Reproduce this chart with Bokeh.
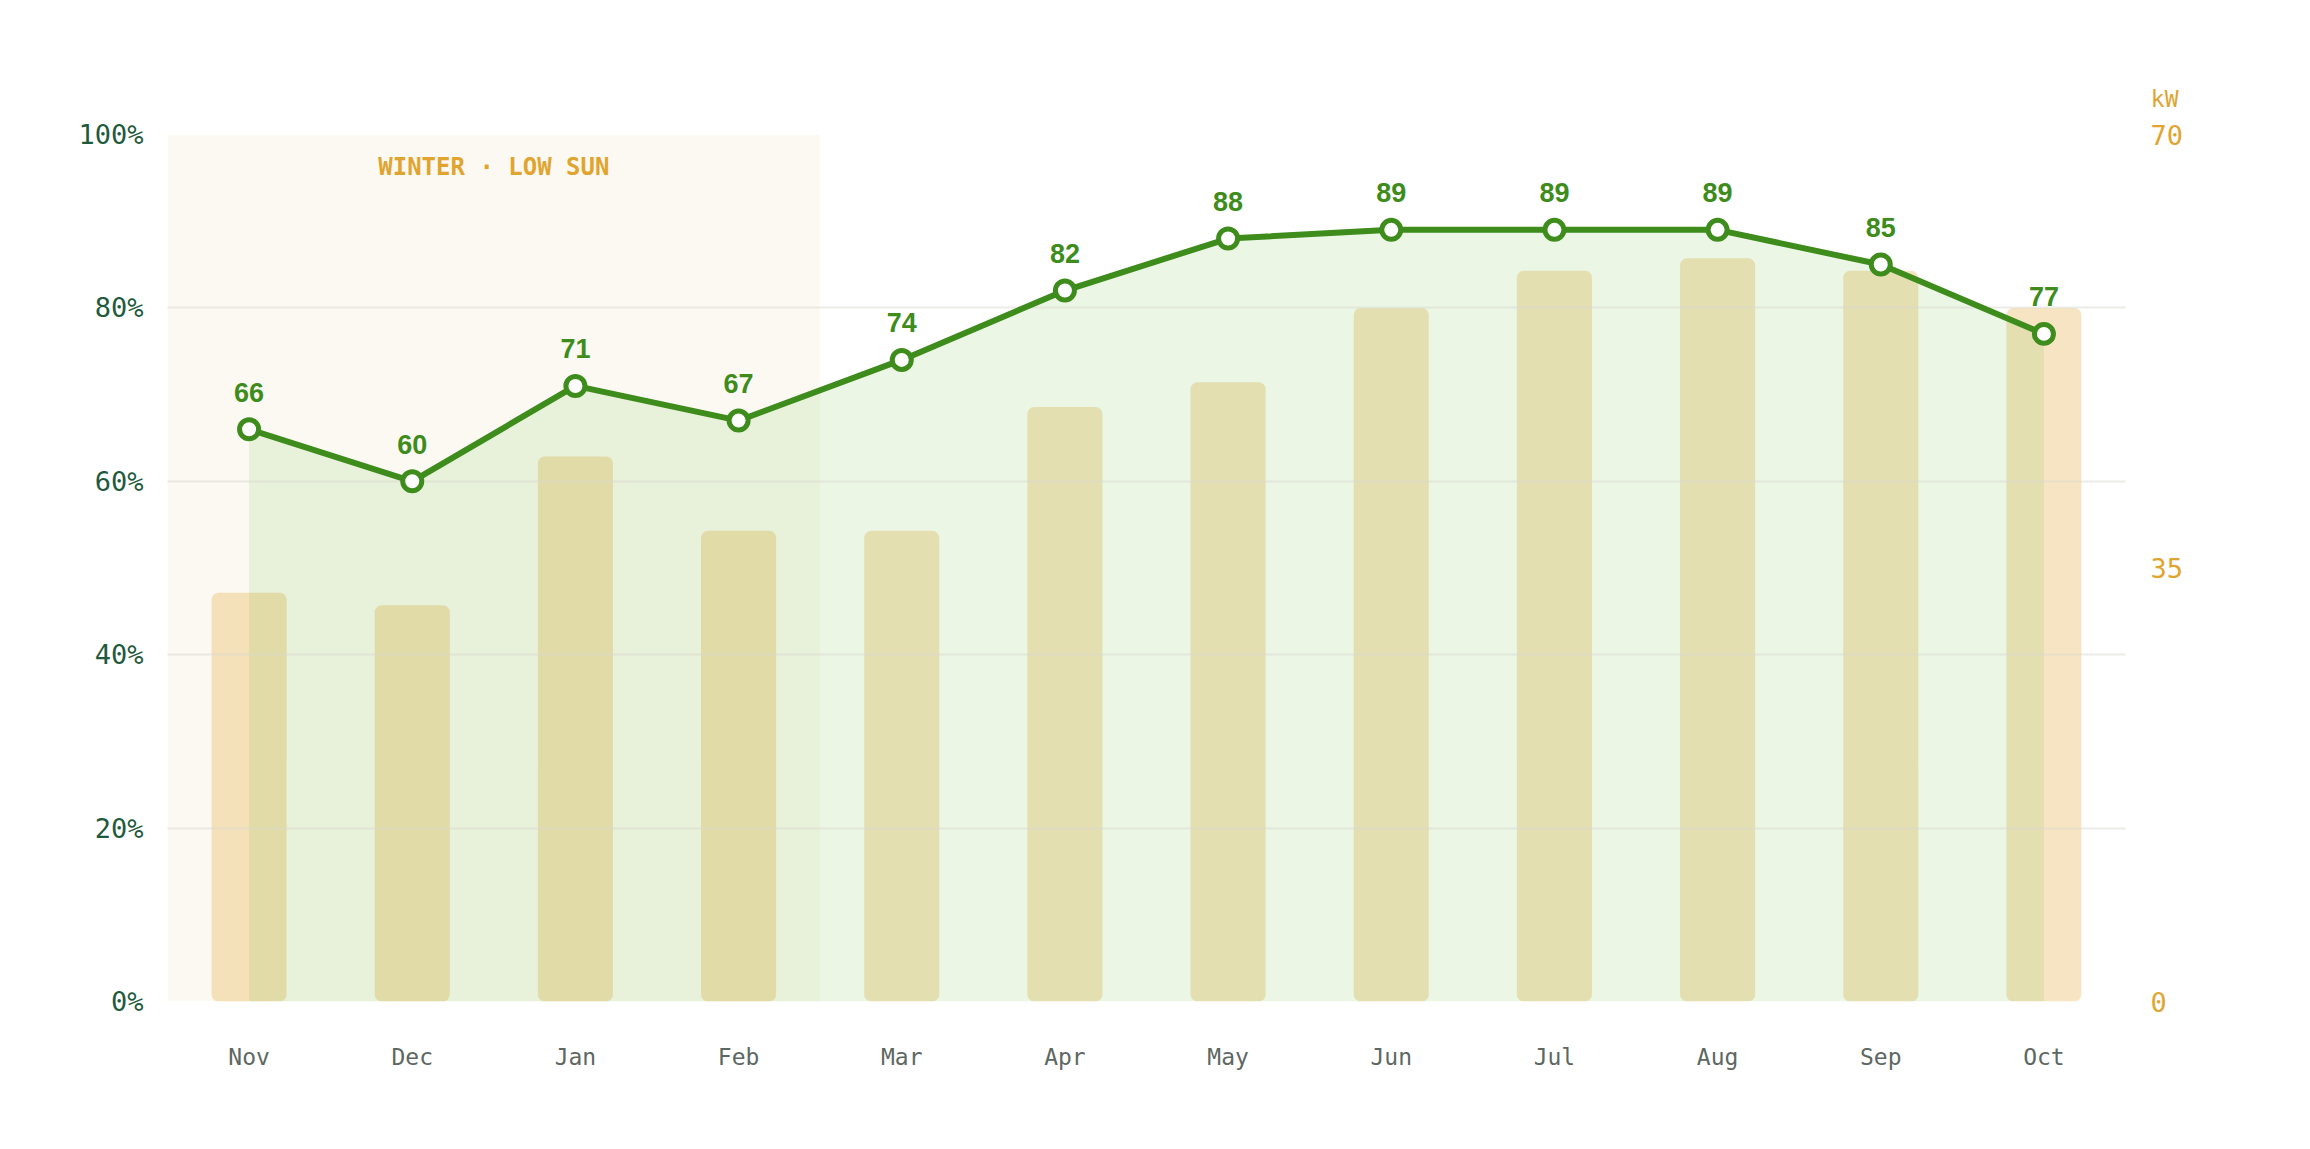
from bokeh.plotting import figure
from bokeh.models import (Range1d, LinearAxis, FixedTicker, BoxAnnotation, Label, Title,
                          CustomJSTickFormatter, FactorRange)
from bokeh.core.properties import value
from bokeh.embed import file_html
from bokeh.resources import INLINE

# ---- data ----
months = ["Nov", "Dec", "Jan", "Feb", "Mar", "Apr", "May", "Jun", "Jul", "Aug", "Sep", "Oct"]
efficiency_pct = [66, 60, 71, 67, 74, 82, 88, 89, 89, 89, 85, 77]
output_kw = [33, 32, 44, 38, 38, 48, 50, 56, 59, 60, 59, 56]
left_ticks = [0, 20, 40, 60, 80, 100]
right_ticks = [0, 35, 70]
winter_months = ["Nov", "Dec", "Jan", "Feb"]
winter_text = "WINTER · LOW SUN"
right_unit = "kW"

GREEN = "#3d8c1c"
AMBER = "#e0a530"
DARK = "#1f5a3d"
GRAY = "#5e6862"
MONO = "DejaVu Sans Mono"

p = figure(x_range=FactorRange(*months, range_padding=0), y_range=Range1d(0, 100),
           frame_width=1958, frame_height=867,
           min_border_left=167, min_border_right=160, min_border_top=134, min_border_bottom=132,
           output_backend="svg", toolbar_location=None,
           background_fill_color="white", border_fill_color="white")
p.outline_line_color = None
p.extra_y_ranges = {"kw": Range1d(0, 70)}

# winter band
band = BoxAnnotation(left=0, right=len(winter_months), bottom=0, top=100,
                     fill_color="#fcf9f2", fill_alpha=1.0, line_color=None, level="underlay")
p.add_layout(band)

# bars (kW)
p.vbar(x=months, top=output_kw, width=0.46, y_range_name="kw",
       fill_color="#e0a536", fill_alpha=0.3, line_color=None, border_radius=7)

# area under line
p.varea(x=months, y1=[0] * len(months), y2=efficiency_pct, fill_color="#7cc44a", fill_alpha=0.15)

# line + markers + labels on top
ln = p.line(x=months, y=efficiency_pct, line_color=GREEN, line_width=6)
ln.level = "annotation"
sc = p.scatter(x=months, y=efficiency_pct, size=19, fill_color="white", line_color=GREEN, line_width=5)
sc.level = "annotation"
tx = p.text(x=months, y=efficiency_pct, text=[str(v) for v in efficiency_pct],
            text_align="center", text_baseline="alphabetic", y_offset=-37,
            text_font=value("Liberation Sans"), text_font_style="bold",
            text_font_size="27px", text_color=GREEN)
tx.level = "annotation"

# winter label
p.add_layout(Label(x=len(winter_months) / 2, y=100, y_offset=-32, text=winter_text,
                   text_align="center", text_baseline="middle",
                   text_font=MONO, text_font_style="bold", text_font_size="24px",
                   text_color=AMBER))

# unit label above right axis
p.add_layout(Title(text=right_unit, align="right", offset=-53, standoff=46,
                   text_font=MONO, text_font_style="normal", text_font_size="23px",
                   text_color=AMBER), "above")

# grid
p.xgrid.grid_line_color = None
p.ygrid.ticker = FixedTicker(ticks=left_ticks)
p.ygrid.grid_line_color = "#d9d9d0"
p.ygrid.grid_line_alpha = 0.5
p.ygrid.grid_line_width = 2
p.ygrid.level = "guide"

# left axis
ya = p.yaxis[0]
ya.ticker = FixedTicker(ticks=left_ticks)
ya.formatter = CustomJSTickFormatter(code="return tick + '%';")
ya.axis_line_color = None
ya.major_tick_line_color = None
ya.minor_tick_line_color = None
ya.major_tick_out = 0
ya.major_label_standoff = 24
ya.major_label_text_font = MONO
ya.major_label_text_font_size = "27px"
ya.major_label_text_color = DARK

# right axis
ra = LinearAxis(y_range_name="kw", ticker=FixedTicker(ticks=right_ticks))
ra.axis_line_color = None
ra.major_tick_line_color = None
ra.minor_tick_line_color = None
ra.major_tick_out = 0
ra.major_label_standoff = 25
ra.major_label_text_font = MONO
ra.major_label_text_font_size = "27px"
ra.major_label_text_color = AMBER
p.add_layout(ra, "right")

# x axis
xa = p.xaxis[0]
xa.axis_line_color = None
xa.major_tick_line_color = None
xa.minor_tick_line_color = None
xa.major_tick_out = 0
xa.major_label_standoff = 42
xa.major_label_text_font = MONO
xa.major_label_text_font_size = "23px"
xa.major_label_text_color = GRAY

open("out.html", "w").write(file_html(p, INLINE))
